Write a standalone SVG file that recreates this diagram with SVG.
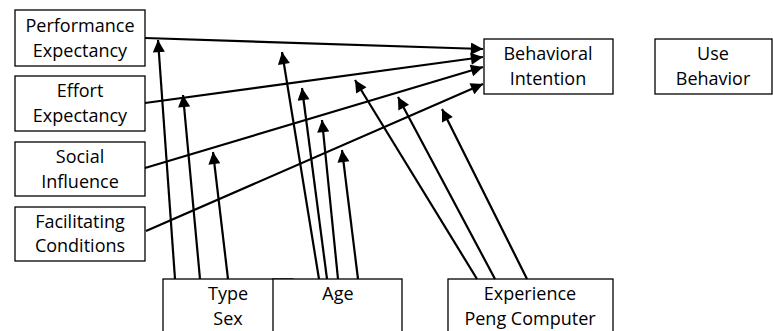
<svg xmlns="http://www.w3.org/2000/svg" width="773" height="331" viewBox="0 0 773 331">
<style>
.box{fill:#fff;stroke:#000;stroke-width:1.3}
text{font-family:"Open Sans","Liberation Sans",sans-serif;font-size:18px;fill:#000;text-anchor:middle}
.c line{stroke:#000;stroke-width:2.2;marker-end:url(#ah)}
</style>
<defs>
<marker id="ah" viewBox="0 0 10 10" refX="10" refY="5" markerWidth="6" markerHeight="5.5" markerUnits="strokeWidth" orient="auto">
<path d="M0,0 L10,5 L0,10 z" fill="#000"/>
</marker>
</defs>
<rect width="773" height="331" fill="#fff"/>
<g id="pe"><rect class="box" x="15" y="10" width="130" height="56"/><text x="80" y="32">Performance</text><text x="80" y="57">Expectancy</text></g>
<g id="ee"><rect class="box" x="15" y="76" width="130" height="55"/><text x="80" y="97">Effort</text><text x="80" y="122">Expectancy</text></g>
<g id="si"><rect class="box" x="15" y="142" width="130" height="54"/><text x="80" y="163">Social</text><text x="80" y="188">Influence</text></g>
<g id="fc"><rect class="box" x="15" y="207" width="130" height="54"/><text x="80" y="228">Facilitating</text><text x="80" y="252">Conditions</text></g>
<g id="bi"><rect class="box" x="484" y="39" width="129" height="55"/><text x="548" y="60">Behavioral</text><text x="548" y="85">Intention</text></g>
<g id="ub"><rect class="box" x="655" y="39" width="117" height="55"/><text x="713" y="60">Use</text><text x="713" y="85">Behavior</text></g>
<g id="ts"><rect class="box" x="163" y="279" width="130" height="60"/><text x="228" y="300">Type</text><text x="228" y="325">Sex</text></g>
<g id="age"><rect class="box" x="273" y="279" width="129" height="60"/><text x="338" y="300">Age</text></g>
<g id="exp"><rect class="box" x="448" y="279" width="165" height="60"/><text x="530" y="300">Experience</text><text x="530" y="325">Peng Computer</text></g>
<g class="c">
<line x1="145" y1="38" x2="483" y2="49"/>
<line x1="145" y1="103" x2="483" y2="57"/>
<line x1="145" y1="168" x2="483" y2="67"/>
<line x1="146" y1="231" x2="483" y2="84"/>
<line x1="175" y1="279" x2="158" y2="40"/>
<line x1="200" y1="279" x2="183" y2="95"/>
<line x1="228" y1="279" x2="213" y2="152"/>
<line x1="319" y1="279" x2="282" y2="52"/>
<line x1="327" y1="279" x2="302" y2="88"/>
<line x1="338" y1="279" x2="322" y2="120"/>
<line x1="358" y1="279" x2="342" y2="150"/>
<line x1="477" y1="279" x2="355" y2="80"/>
<line x1="495" y1="279" x2="398" y2="97"/>
<line x1="527" y1="279" x2="442" y2="109"/>
</g>
</svg>
